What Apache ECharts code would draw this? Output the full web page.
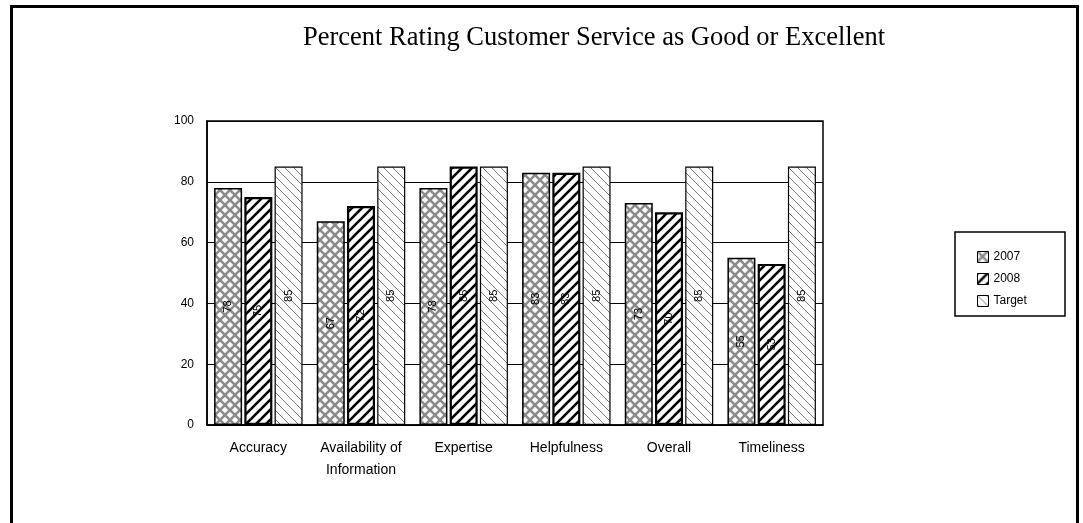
<!DOCTYPE html>
<html>
<head>
<meta charset="utf-8">
<script src="https://cdn.jsdelivr.net/npm/echarts@6/dist/echarts.min.js"></script>
<style>
html,body{margin:0;padding:0;background:#fff;}
#chart{width:1083px;height:523px;}
</style>
</head>
<body>
<div id="chart"></div>
<script>
const titleText = 'Percent Rating Customer Service as Good or Excellent';
const categories = ['Accuracy', 'Availability of\nInformation', 'Expertise', 'Helpfulness', 'Overall', 'Timeliness'];
const seriesNames = ['2007', '2008', 'Target'];
const values2007 = [78, 67, 78, 83, 73, 55];
const values2008 = [75, 72, 85, 83, 70, 53];
const valuesTarget = [85, 85, 85, 85, 85, 85];
const yTicks = [0, 20, 40, 60, 80, 100];

function makeTile(size, draw) {
  const c = document.createElement('canvas');
  c.width = size; c.height = size;
  const ctx = c.getContext('2d');
  ctx.fillStyle = '#fff';
  ctx.fillRect(0, 0, size, size);
  draw(ctx, size);
  return c;
}
function slash(ctx, s) { // "/"
  for (let k = -1; k <= 1; k++) {
    ctx.beginPath();
    ctx.moveTo(k * s - 1, s + 1);
    ctx.lineTo(k * s + s + 1, -1);
    ctx.stroke();
  }
}
function backslash(ctx, s) { // "\"
  for (let k = -1; k <= 1; k++) {
    ctx.beginPath();
    ctx.moveTo(k * s - 1, -1);
    ctx.lineTo(k * s + s + 1, s + 1);
    ctx.stroke();
  }
}
const pat2007 = makeTile(10, (ctx, s) => { ctx.strokeStyle = '#8c8c8c'; ctx.lineWidth = 2.6; slash(ctx, s); backslash(ctx, s); });
const pat2008 = makeTile(10, (ctx, s) => { ctx.strokeStyle = '#000'; ctx.lineWidth = 2.6; slash(ctx, s); });
const patTarget = makeTile(9, (ctx, s) => { ctx.strokeStyle = '#7a7a7a'; ctx.lineWidth = 1; backslash(ctx, s); });

const chart = echarts.init(document.getElementById('chart'), null, {renderer: 'canvas'});

const labelCfg = {
  show: true, position: 'inside', rotate: 90, color: '#000',
  fontFamily: 'Liberation Sans, Arial', fontSize: 11
};

function barSeries(name, data, pattern, bw) {
  return {
    name: name, type: 'bar', data: data,
    barWidth: 28, barGap: '8%', barCategoryGap: '15%',
    itemStyle: { color: { image: pattern, repeat: 'repeat' }, borderColor: '#000', borderWidth: bw },
    label: labelCfg,
    emphasis: { disabled: true },
    animation: false
  };
}

chart.setOption({
  animation: false,
  backgroundColor: '#fff',
  title: {
    text: titleText, left: 298, top: 20,
    textStyle: { fontFamily: 'Liberation Serif, Times New Roman, serif', fontWeight: 'normal', fontSize: 26.5, color: '#000' }
  },
  grid: { left: 207, right: 260, top: 121, bottom: 98, show: true, borderColor: '#000', borderWidth: 1.5, backgroundColor: 'transparent' },
  legend: {
    orient: 'vertical', left: 972, top: 246, itemWidth: 11, itemHeight: 11, itemGap: 10,
    icon: 'rect', data: seriesNames,
    itemStyle: { borderWidth: 1, borderColor: '#000' },
    textStyle: { fontFamily: 'Liberation Sans, Arial', fontSize: 12, color: '#000', lineHeight: 12 }
  },
  xAxis: {
    type: 'category', data: categories,
    axisLine: { show: true, lineStyle: { color: '#000', width: 1.5 } },
    axisTick: { show: false },
    axisLabel: { color: '#000', fontFamily: 'Liberation Sans, Arial', fontSize: 14, margin: 12, lineHeight: 22, interval: 0 }
  },
  yAxis: {
    type: 'value', min: yTicks[0], max: yTicks[yTicks.length - 1], interval: yTicks[1] - yTicks[0],
    axisLine: { show: true, lineStyle: { color: '#000', width: 1.5 } },
    axisTick: { show: false },
    splitLine: { show: true, lineStyle: { color: '#000', width: 1 } },
    axisLabel: { color: '#000', fontFamily: 'Liberation Sans, Arial', fontSize: 12, margin: 13 }
  },
  graphic: [
    { type: 'rect', shape: { x: 955, y: 232, width: 110, height: 84 }, style: { fill: 'none', stroke: '#000', lineWidth: 1.5 }, z: -1 },
    { type: 'line', shape: { x1: 11.5, y1: 5, x2: 11.5, y2: 523 }, style: { stroke: '#000', lineWidth: 3 } },
    { type: 'line', shape: { x1: 10, y1: 6.5, x2: 1079, y2: 6.5 }, style: { stroke: '#000', lineWidth: 3 } },
    { type: 'line', shape: { x1: 1077.5, y1: 5, x2: 1077.5, y2: 523 }, style: { stroke: '#000', lineWidth: 3 } }
  ],
  series: [
    barSeries(seriesNames[0], values2007, pat2007, 1.5),
    barSeries(seriesNames[1], values2008, pat2008, 2.2),
    barSeries(seriesNames[2], valuesTarget, patTarget, 1.2)
  ]
});
</script>
</body>
</html>
